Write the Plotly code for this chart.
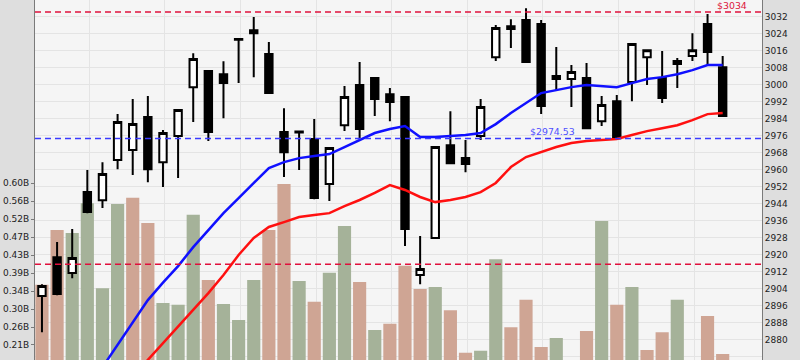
import plotly.graph_objects as go

# ---- data ----
day = list(range(46))

open_ = [2900.4, 2918.7, 2911.2, 2949.3, 2945.5, 2964.4, 2969.1, 2984.6, 2963.4, 2975.7,
         2998.7, 3006.3, 3004.8, 3021.0, 3025.5, 3014.3, 2977.6, 2977.8, 2974.3, 2953.1,
         2980.8, 2999.7, 3003.0, 2995.4, 2994.0, 2910.3, 2927.7, 2971.4, 2965.3, 2975.7,
         3012.8, 3027.4, 3030.3, 3028.4, 3003.9, 3002.5, 3003.0, 2982.7, 2992.1, 3001.1,
         3012.8, 3003.0, 3011.0, 3013.3, 3028.4, 3008.1]
high = [2906.0, 2925.8, 2931.9, 2959.7, 2963.4, 2986.0, 2993.1, 2994.5, 2978.5, 2988.4,
        3014.7, 3006.5, 3010.9, 3021.5, 3031.7, 3019.9, 2988.8, 2977.9, 2983.7, 2970.2,
        2999.2, 3010.5, 3003.4, 2998.3, 2994.3, 2928.6, 2970.7, 2987.4, 2973.8, 2993.1,
        3027.9, 3030.7, 3035.8, 3030.3, 3017.6, 3009.1, 3010.0, 2994.5, 2995.0, 3019.2,
        3016.3, 3015.7, 3012.4, 3024.1, 3033.1, 3013.3]
low = [2883.4, 2900.8, 2908.8, 2939.4, 2941.8, 2960.1, 2957.3, 2954.0, 2951.7, 2955.9,
       2982.3, 2973.3, 2984.1, 3000.6, 3003.4, 2995.5, 2956.4, 2959.7, 2946.0, 2945.1,
       2978.0, 2974.7, 2985.1, 2982.7, 2923.9, 2906.0, 2927.2, 2962.7, 2958.7, 2973.8,
       3011.0, 3017.1, 3010.3, 2986.0, 2997.3, 2989.3, 2979.2, 2980.4, 2974.5, 2992.1,
       2999.7, 2991.2, 2998.3, 3011.0, 3009.1, 2984.9]
close = [2905.1, 2901.3, 2918.3, 2939.9, 2957.8, 2982.3, 2981.3, 2960.1, 2977.1, 2987.9,
         3011.9, 2977.6, 3000.6, 3021.3, 3024.1, 2995.9, 2968.1, 2977.4, 2946.5, 2970.0,
         2994.0, 2979.0, 2993.1, 2991.7, 2931.9, 2913.1, 2970.5, 2962.9, 2962.5, 2989.3,
         3026.5, 3026.0, 3010.5, 2989.8, 3002.5, 3005.8, 2979.4, 2990.3, 2974.7, 3019.0,
         3016.1, 2993.6, 3009.6, 3016.1, 3015.2, 2985.1]
volume_b = [0.358, 0.490, 0.483, 0.555, 0.350, 0.553, 0.568, 0.507, 0.314, 0.310,
            0.527, 0.370, 0.312, 0.273, 0.370, 0.490, 0.601, 0.367, 0.317, 0.387,
            0.500, 0.365, 0.249, 0.264, 0.404, 0.348, 0.353, 0.297, 0.194, 0.199,
            0.420, 0.256, 0.322, 0.208, 0.230, 0.160, 0.247, 0.512, 0.310, 0.353,
            0.201, 0.244, 0.322, 0.165, 0.283, 0.191]
ma_fast = [None, None, None, None, 2866.9, 2877.3, 2888.1, 2898.5, 2906.7, 2914.5,
           2923.4, 2931.4, 2939.4, 2946.5, 2953.6, 2960.6, 2963.4, 2965.3, 2966.3, 2967.2,
           2970.5, 2973.8, 2977.1, 2979.0, 2980.4, 2975.2, 2975.2, 2975.7, 2976.2, 2977.1,
           2981.3, 2986.5, 2991.2, 2995.9, 2997.3, 2998.7, 2999.7, 2999.2, 2998.7, 3000.6,
           3002.5, 3003.4, 3004.8, 3006.7, 3009.1, 3009.1]
ma_slow = [None, None, None, None, None, None, 2862.5, 2870.3, 2878.3, 2885.8,
           2893.8, 2901.8, 2910.3, 2919.7, 2927.7, 2932.9, 2935.2, 2937.6, 2938.5, 2939.4,
           2942.7, 2945.6, 2948.9, 2952.6, 2950.3, 2947.0, 2944.6, 2945.6, 2947.0, 2949.3,
           2953.6, 2961.1, 2965.8, 2968.1, 2970.5, 2972.4, 2973.3, 2973.8, 2974.3, 2976.2,
           2978.0, 2979.4, 2980.8, 2983.2, 2986.0, 2986.5]

level_high = 3034
level_mid = 2974.53
level_low = 2915.3
label_high = "$3034"
label_mid = "$2974.53"

vol_tick_vals = [0.213, 0.2563, 0.2997, 0.343, 0.3863, 0.4297, 0.473, 0.5163, 0.5597, 0.603]
vol_tick_text = ["0.21B", "0.26B", "0.30B", "0.34B", "0.39B", "0.43B", "0.47B", "0.52B", "0.56B", "0.60B"]
week_grid = [3, 8, 13, 18, 23, 28, 33, 38, 43]

# ---- styling ----
UP_VOL = "#a5b299"
DOWN_VOL = "#cfa594"
vol_colors = []
for i, c in enumerate(close):
    prev = close[i - 1] if i > 0 else None
    vol_colors.append(UP_VOL if (prev is not None and c > prev) else DOWN_VOL)

FONT = "DejaVu Sans"
fig = go.Figure()

fig.add_trace(go.Bar(x=day, y=volume_b, marker=dict(color=vol_colors, line=dict(width=0)),
                     yaxis="y", showlegend=False, hoverinfo="skip"))

fig.add_trace(go.Candlestick(
    x=day, open=open_, high=high, low=low, close=close, yaxis="y2",
    increasing=dict(line=dict(color="black", width=2), fillcolor="white"),
    decreasing=dict(line=dict(color="black", width=2), fillcolor="black"),
    whiskerwidth=0, showlegend=False))

fig.add_trace(go.Scatter(x=day, y=ma_fast, mode="lines", yaxis="y2",
                         line=dict(color="#1010ff", width=2.5), showlegend=False))
fig.add_trace(go.Scatter(x=day, y=ma_slow, mode="lines", yaxis="y2",
                         line=dict(color="#ff1010", width=2.5), showlegend=False))

for lvl, col in [(level_high, "#e0103c"), (level_mid, "#3a3aff"), (level_low, "#e0103c")]:
    fig.add_shape(type="line", xref="paper", x0=0, x1=1, yref="y2", y0=lvl, y1=lvl,
                  line=dict(color=col, width=1.5, dash="6px,4px"), layer="above")

fig.add_annotation(x=46.66, y=level_high, xref="x", yref="y2", text=label_high,
                   showarrow=False, xanchor="right", yanchor="bottom",
                   font=dict(family=FONT, size=9.4, color="#dc143c"), borderpad=0)
fig.add_annotation(x=32.1, y=level_mid, xref="x", yref="y2", text=label_mid,
                   showarrow=False, xanchor="left", yanchor="bottom",
                   font=dict(family=FONT, size=9.4, color="#5050ff"), borderpad=1)

grid = "#e4e4e4"
axis_line = "#7a7a7a"
fig.update_layout(
    width=800, height=360,
    margin=dict(l=35, r=38, t=0, b=0, pad=0),
    paper_bgcolor="#dedede", plot_bgcolor="#f5f5f5",
    font=dict(family=FONT, size=9, color="#222222"),
    bargap=0.13, showlegend=False,
    xaxis=dict(range=[-0.46, 47.6], tickvals=[g + 0.12 for g in week_grid], showticklabels=False,
               ticks="", showgrid=True, gridcolor=grid, gridwidth=1, zeroline=False,
               showline=False, rangeslider=dict(visible=False), fixedrange=True),
    yaxis=dict(range=[0.1768, 1.0449], side="left", tickvals=vol_tick_vals, ticktext=vol_tick_text,
               ticks="outside", ticklen=3, tickcolor=axis_line, showgrid=False, zeroline=False,
               showline=True, linecolor=axis_line, linewidth=1),
    yaxis2=dict(range=[2870.3, 3039.7], side="right", overlaying="y", tick0=2880, dtick=8,
                ticks="", showgrid=True, gridcolor=grid, gridwidth=1, zeroline=False,
                showline=True, linecolor=axis_line, linewidth=1),
)

fig.write_html("out.html")
